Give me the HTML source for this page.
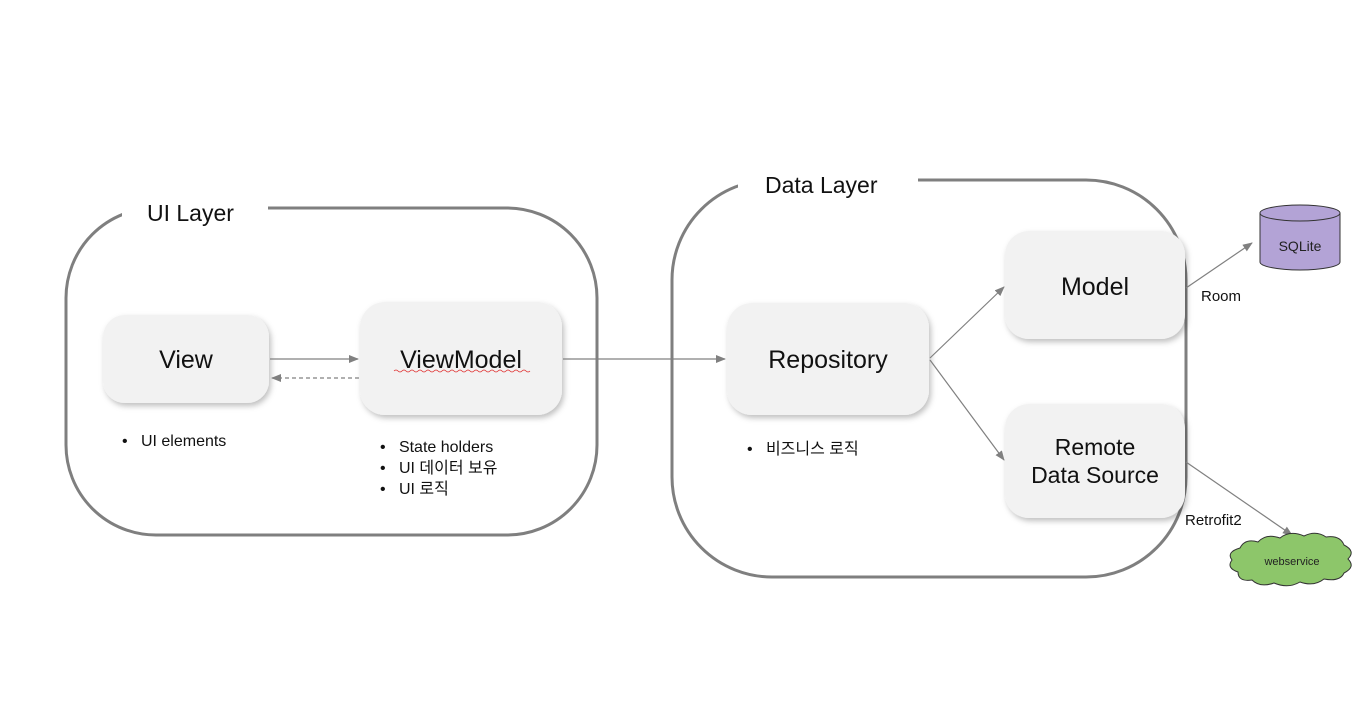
<!DOCTYPE html>
<html><head><meta charset="utf-8"><style>
body{margin:0;background:#fff;}
svg text{font-family:"Liberation Sans","Noto Sans CJK KR",sans-serif;}
</style></head><body>
<svg width="1368" height="719" xmlns="http://www.w3.org/2000/svg">
<defs>
<filter id="sh" x="-20%" y="-20%" width="150%" height="150%"><feDropShadow dx="2" dy="3" stdDeviation="3" flood-color="#000" flood-opacity="0.25"/></filter>
<marker id="ar" markerWidth="10" markerHeight="8" refX="9" refY="4" orient="auto" markerUnits="userSpaceOnUse"><path d="M0,0 L10,4 L0,8 z" fill="#808080"/></marker>
</defs>
<rect x="66" y="208" width="531" height="327" rx="90" fill="none" stroke="#7f7f7f" stroke-width="3"/>
<rect x="122" y="198" width="146" height="22" fill="#fff"/>
<text x="147" y="221" font-size="23" fill="#111">UI Layer</text>
<rect x="672" y="180" width="514" height="397" rx="100" fill="none" stroke="#7f7f7f" stroke-width="3"/>
<rect x="738" y="170" width="180" height="22" fill="#fff"/>
<text x="765" y="193" font-size="23" fill="#111">Data Layer</text>
<g filter="url(#sh)" fill="#f2f2f2">
<rect x="103" y="315" width="166" height="88" rx="22"/>
<rect x="360" y="302" width="202" height="113" rx="25"/>
<rect x="727" y="303" width="202" height="112" rx="25"/>
<rect x="1005" y="231" width="180" height="108" rx="24"/>
<rect x="1005" y="404" width="180" height="114" rx="24"/>
</g>
<g font-size="25" fill="#111" text-anchor="middle">
<text x="186" y="368">View</text>
<text x="461" y="368">ViewModel</text>
<text x="828" y="368">Repository</text>
<text x="1095" y="295">Model</text>
<text x="1095" y="455" font-size="23">Remote</text>
<text x="1095" y="483" font-size="23">Data Source</text>
</g>
<path d="M394 371 q2 -2 4 0 t4 0 t4 0 t4 0 t4 0 t4 0 t4 0 t4 0 t4 0 t4 0 t4 0 t4 0 t4 0 t4 0 t4 0 t4 0 t4 0 t4 0 t4 0 t4 0 t4 0 t4 0 t4 0 t4 0 t4 0 t4 0 t4 0 t4 0 t4 0 t4 0 t4 0 t4 0 t4 0 t4 0" fill="none" stroke="#e03030" stroke-width="0.8"/>
<g stroke="#808080" stroke-width="1.2" fill="none">
<line x1="270" y1="359" x2="358" y2="359" marker-end="url(#ar)"/>
<line x1="359" y1="378" x2="272" y2="378" stroke-dasharray="4,3" marker-end="url(#ar)"/>
<line x1="563" y1="359" x2="725" y2="359" marker-end="url(#ar)"/>
<line x1="930" y1="358" x2="1004" y2="287" marker-end="url(#ar)"/>
<line x1="930" y1="360" x2="1004" y2="460" marker-end="url(#ar)"/>
<line x1="1186" y1="288" x2="1252" y2="243" marker-end="url(#ar)"/>
<line x1="1186" y1="462" x2="1292" y2="535" marker-end="url(#ar)"/>
</g>
<g font-size="16" fill="#111">
<text x="122" y="446">•&#160;&#160;&#160;UI elements</text>
<text x="380" y="452">•&#160;&#160;&#160;State holders</text>
<text x="380" y="473">•&#160;&#160;&#160;UI 데이터 보유</text>
<text x="380" y="494">•&#160;&#160;&#160;UI 로직</text>
<text x="747" y="454">•&#160;&#160;&#160;비즈니스 로직</text>
<text x="1201" y="301" font-size="15">Room</text>
<text x="1185" y="525" font-size="15">Retrofit2</text>
</g>
<path d="M1260 213 L1260 262 A40 8 0 0 0 1340 262 L1340 213" fill="#b3a3d6" stroke="#333" stroke-width="1"/>
<ellipse cx="1300" cy="213" rx="40" ry="8" fill="#b3a3d6" stroke="#333" stroke-width="1"/>
<text x="1300" y="251" font-size="14" text-anchor="middle" fill="#222">SQLite</text>
<path d="M1240 548 q5 -10 18 -6 q8 -9 22 -4 q10 -8 24 -2 q12 -6 22 1 q14 -2 18 8 q12 6 4 14 q8 8 -4 14 q-4 9 -20 6 q-10 8 -24 3 q-12 7 -26 1 q-14 5 -22 -3 q-14 2 -14 -8 q-12 -4 -6 -12 q-6 -8 8 -12z" fill="#8dc66a" stroke="#333" stroke-width="1"/>
<text x="1292" y="565" font-size="11" text-anchor="middle" fill="#222">webservice</text>
</svg>
</body></html>
